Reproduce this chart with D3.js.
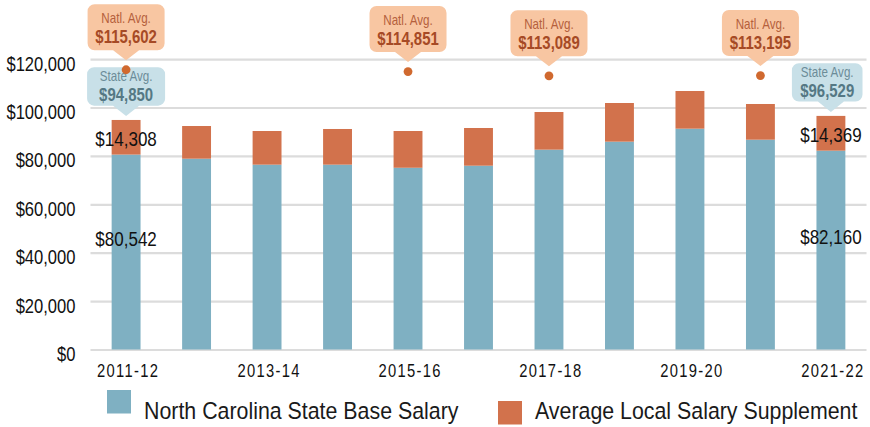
<!DOCTYPE html>
<html>
<head>
<meta charset="utf-8">
<script src="https://cdn.jsdelivr.net/npm/d3@7"></script>
<style>
  html, body { margin: 0; padding: 0; background: #fff; }
  svg { display: block; }
  text { font-family: "Liberation Sans", Arial, sans-serif; }
</style>
</head>
<body>
<svg id="chart" width="870" height="427"></svg>
<script>
// School years shown on the x axis
const years = ["2011-12", "2012-13", "2013-14", "2014-15", "2015-16", "2016-17",
               "2017-18", "2018-19", "2019-20", "2020-21", "2021-22"];
// Average teacher pay components (dollars)
const stateBase       = [80542, 78850, 76380, 76380, 75100, 75950, 82580, 85880, 91250, 86700, 82160];
const localSupplement = [14308, 13500, 13910, 14740, 15190, 15580, 15560, 15980, 15570, 14750, 14369];
// National average callouts
const natlYears  = ["2011-12", "2015-16", "2017-18", "2020-21"];
const natlValues = [115602, 114851, 113089, 113195];
// State average callouts
const stateAvgYears  = ["2011-12", "2021-22"];
const stateAvgValues = [94850, 96529];
// Bars whose segments carry value labels
const labelledYears = ["2011-12", "2021-22"];
// Axis tick labels
const xTickLabels = ["2011-12", "2013-14", "2015-16", "2017-18", "2019-20", "2021-22"];
const yTicks = [0, 20000, 40000, 60000, 80000, 100000, 120000];

const colors = {
  base: "#7fb0c2", supp: "#d2724c", grid: "#dcdcdc",
  natlFill: "#f8c6a2", natlText: "#b5603c", natlValue: "#a64a25", dot: "#d0692f",
  stateFill: "#c8e0e8", stateText: "#6c8c98", stateValue: "#557884"
};

// Condense text horizontally around its anchor point (narrow grotesk look)
function squeeze(sel, k) {
  sel.each(function () {
    const t = d3.select(this);
    const tx = +t.attr("x") || 0, ty = +t.attr("y") || 0;
    t.attr("x", 0).attr("y", 0)
      .attr("transform", `translate(${tx},${ty}) scale(${k},1)`);
  });
}

const svg = d3.select("#chart");
const left = 90.5, right = 866.5;

const x = d3.scaleBand().domain(years).range([left, right])
  .paddingInner(0.59).paddingOuter(0.3);
const y = d3.scaleLinear().domain([0, 120000]).range([349.5, 59.1]);

const money = d3.format("$,");

// Gridlines and y tick labels
const yAxis = d3.axisLeft(y).tickValues(yTicks)
  .tickSize(-(right - left)).tickPadding(15).tickFormat(money);
const gy = svg.append("g").attr("transform", `translate(${left},0)`).call(yAxis);
gy.select(".domain").remove();
gy.selectAll(".tick line").attr("stroke", colors.grid).attr("stroke-width", 2.2);
gy.selectAll(".tick text").attr("fill", "#111").attr("font-size", 19.5)
  .attr("font-family", "Liberation Sans, Arial, sans-serif").attr("dy", "0.56em")
  .call(squeeze, 0.85);

// x tick labels (every other year)
const xAxis = d3.axisBottom(x).tickValues(xTickLabels).tickSize(0).tickPadding(0);
const gx = svg.append("g").attr("transform", "translate(2,0)").call(xAxis);
gx.select(".domain").remove();
gx.selectAll(".tick text").attr("y", 377).attr("dy", 0)
  .attr("font-family", "Liberation Sans, Arial, sans-serif")
  .attr("fill", "#111").attr("font-size", 18).attr("letter-spacing", 1.6)
  .call(squeeze, 0.82);

// Stacked bars
const rows = years.map((yr, i) => ({ yr, base: stateBase[i], supp: localSupplement[i] }));
const bars = svg.append("g");
bars.selectAll("rect.base").data(rows).join("rect").attr("class", "base")
  .attr("x", d => x(d.yr)).attr("width", x.bandwidth())
  .attr("y", d => y(d.base)).attr("height", d => y(0) - y(d.base))
  .attr("fill", colors.base);
bars.selectAll("rect.supp").data(rows).join("rect").attr("class", "supp")
  .attr("x", d => x(d.yr)).attr("width", x.bandwidth())
  .attr("y", d => y(d.base + d.supp)).attr("height", d => y(d.base) - y(d.base + d.supp))
  .attr("fill", colors.supp);

// Segment value labels on the first and last bars
const labelled = rows.filter(d => labelledYears.includes(d.yr));
const lab = svg.append("g").attr("font-size", 21).attr("fill", "#111").attr("text-anchor", "middle");
lab.selectAll("text.s").data(labelled).join("text").attr("class", "s")
  .attr("x", d => x(d.yr) + x.bandwidth() / 2)
  .attr("y", d => (y(d.base) + y(d.base + d.supp)) / 2 + 9)
  .text(d => money(d.supp));
lab.selectAll("text.b").data(labelled).join("text").attr("class", "b")
  .attr("x", d => x(d.yr) + x.bandwidth() / 2)
  .attr("y", d => y(d.base * 0.533))
  .text(d => money(d.base));
lab.selectAll("text").call(squeeze, 0.81);

// Rounded box with a downward pointer
function callout(g, cx, boxTop, boxH, x0, x1, tipY, fill) {
  const r = 7, pw = 13, bottom = boxTop + boxH;
  const p = d3.path();
  p.moveTo(x0 + r, boxTop);
  p.lineTo(x1 - r, boxTop);
  p.arcTo(x1, boxTop, x1, boxTop + r, r);
  p.lineTo(x1, bottom - r);
  p.arcTo(x1, bottom, x1 - r, bottom, r);
  p.lineTo(cx + pw, bottom);
  p.lineTo(cx, tipY);
  p.lineTo(cx - pw, bottom);
  p.lineTo(x0 + r, bottom);
  p.arcTo(x0, bottom, x0, bottom - r, r);
  p.lineTo(x0, boxTop + r);
  p.arcTo(x0, boxTop, x0 + r, boxTop, r);
  p.closePath();
  g.append("path").attr("d", p.toString()).attr("fill", fill);
}

// State average callouts sit just above the bar tops
const stateG = svg.append("g");
stateAvgYears.forEach((yr, i) => {
  const cx = x(yr) + x.bandwidth() / 2;
  const top = y(stateAvgValues[i]);
  const bTop = top - 52.7;
  const x0 = cx - 39, x1 = Math.min(cx + 39, 862.5);
  const tx = (x0 + x1) / 2;
  callout(stateG, cx, bTop, 38.4, x0, x1, top - 4, colors.stateFill);
  stateG.append("text").attr("x", tx).attr("y", bTop + 13.8).attr("text-anchor", "middle")
    .attr("font-size", 14).attr("fill", colors.stateText).text("State Avg.");
  stateG.append("text").attr("x", tx).attr("y", bTop + 33.5).attr("text-anchor", "middle")
    .attr("font-size", 18).attr("font-weight", "bold").attr("fill", colors.stateValue)
    .text(money(stateAvgValues[i]));
});
stateG.selectAll("text").call(squeeze, 0.83);

// National average callouts with dots at the value
const natlG = svg.append("g");
natlYears.forEach((yr, i) => {
  const cx = x(yr) + x.bandwidth() / 2;
  const dy = y(natlValues[i]);
  const bTop = dy - 19.5 - 46;
  callout(natlG, cx, bTop, 46, cx - 38.5, cx + 38.5, dy - 9.5, colors.natlFill);
  natlG.append("text").attr("x", cx).attr("y", bTop + 18.8).attr("text-anchor", "middle")
    .attr("font-size", 14).attr("fill", colors.natlText).text("Natl. Avg.");
  natlG.append("text").attr("x", cx).attr("y", bTop + 38.5).attr("text-anchor", "middle")
    .attr("font-size", 18).attr("font-weight", "bold").attr("fill", colors.natlValue)
    .text(money(natlValues[i]));
  natlG.append("circle").attr("cx", cx).attr("cy", dy).attr("r", 4.4).attr("fill", colors.dot);
});
natlG.selectAll("text").call(squeeze, 0.83);

// Legend
const legendItems = [
  { label: "North Carolina State Base Salary", color: colors.base, sx: 107, sy: 390, tx: 144 },
  { label: "Average Local Salary Supplement", color: colors.supp, sx: 498, sy: 401, tx: 535 }
];
const lg = svg.append("g");
lg.selectAll("rect").data(legendItems).join("rect")
  .attr("x", d => d.sx).attr("y", d => d.sy).attr("width", 24).attr("height", 23.5)
  .attr("fill", d => d.color);
lg.selectAll("text").data(legendItems).join("text")
  .attr("x", d => d.tx).attr("y", 418.5).attr("font-size", 24.5).attr("fill", "#1a1a1a")
  .text(d => d.label)
  .call(squeeze, 0.872);
</script>
</body>
</html>
